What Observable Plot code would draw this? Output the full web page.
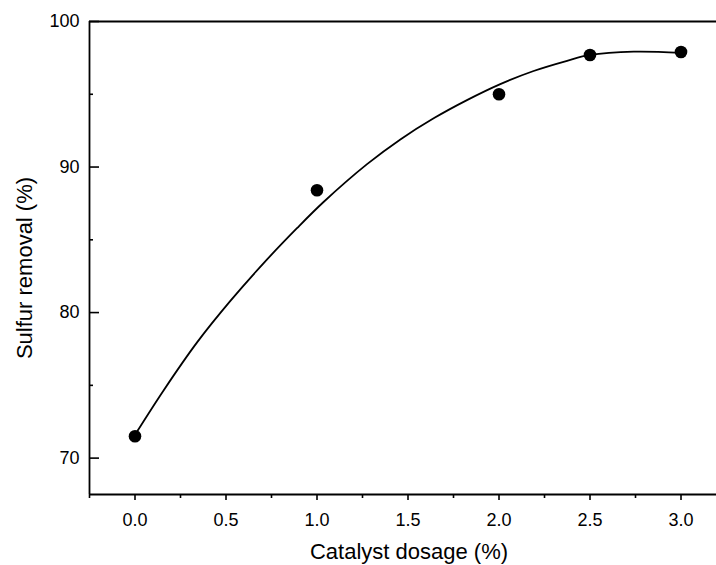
<!DOCTYPE html>
<html>
<head>
<meta charset="utf-8">
<script src="https://cdn.jsdelivr.net/npm/d3@7"></script>
<script src="https://cdn.jsdelivr.net/npm/@observablehq/plot@0.6"></script>
<style>
  html, body { margin: 0; padding: 0; background: #fff; }
  #chart svg { display: block; }
</style>
</head>
<body>
<div id="chart"></div>
<script>
// Measured data points
const dosage = [0.0, 1.0, 2.0, 2.5, 3.0];
const removal = [71.5, 88.4, 95.0, 97.7, 97.9];

// Fitted curve
const fitX = [0, 0.157, 0.341, 0.524, 0.707, 0.89, 1.036, 1.275, 1.458, 1.641, 1.824, 2.007, 2.19, 2.374, 2.5, 2.74, 3.0];
const fitY = [71.6, 74.65, 77.95, 80.8, 83.4, 85.8, 87.6, 90.2, 91.9, 93.35, 94.6, 95.7, 96.6, 97.3, 97.7, 97.93, 97.85];

// Tick values
const xMajor = [0, 0.5, 1.0, 1.5, 2.0, 2.5, 3.0];
const xMinor = [-0.25, 0.25, 0.75, 1.25, 1.75, 2.25, 2.75];
const yMajor = [70, 80, 90, 100];
const yMinor = [75, 85, 95];

// Axis titles
const xTitle = ["Catalyst dosage (%)"];
const yTitle = ["Sulfur removal (%)"];

const points = dosage.map((d, i) => ({x: d, y: removal[i]}));
const fit = fitX.map((d, i) => ({x: d, y: fitY[i]}));

const xDomain = [-0.25, 3.195];
const yDomain = [67.5, 100];

const plot = Plot.plot({
  width: 716,
  height: 565,
  marginLeft: 89,
  marginRight: 0,
  marginTop: 21,
  marginBottom: 71,
  style: {fontFamily: "'Liberation Sans', Arial, sans-serif", fontSize: "18px", background: "#fff", color: "#000"},
  x: {domain: xDomain},
  y: {domain: yDomain},
  marks: [
    // frame lines
    Plot.ruleX([xDomain[0]], {stroke: "#000", strokeWidth: 1.8}),
    Plot.ruleY([yDomain[0], yDomain[1]], {stroke: "#000", strokeWidth: 1.8}),
    // y ticks (inward)
    Plot.axisY({ticks: yMajor, tickSize: 10, dx: 10, text: null, label: null, strokeWidth: 1.6}),
    Plot.axisY({ticks: yMinor, tickSize: 4, dx: 4, text: null, label: null, strokeWidth: 1.6}),
    Plot.axisY({ticks: yMajor, tickSize: 0, tickPadding: 10, tickFormat: d => d.toFixed(0),
      fontSize: 18, label: null}),
    // x ticks (outward)
    Plot.axisX({ticks: xMajor, tickSize: 6, tickPadding: 13, tickFormat: d => d.toFixed(1), fontSize: 18,
      strokeWidth: 1.6, label: null}),
    Plot.axisX({ticks: xMinor, tickSize: 4, text: null, label: null, strokeWidth: 1.6}),
    // axis titles
    Plot.text(xTitle, {frameAnchor: "bottom", dx: 6, dy: 64, fontSize: 22, fill: "#000"}),
    Plot.text(yTitle, {frameAnchor: "left", textAnchor: "middle", rotate: -90, dx: -65, dy: 10, fontSize: 22, fill: "#000"}),
    // fit curve
    Plot.line(fit, {x: "x", y: "y", curve: "catmull-rom", stroke: "#000", strokeWidth: 1.8}),
    // data points
    Plot.dot(points, {x: "x", y: "y", r: 6.3, fill: "#000", stroke: "none"})
  ]
});

document.getElementById("chart").appendChild(plot);
</script>
</body>
</html>
